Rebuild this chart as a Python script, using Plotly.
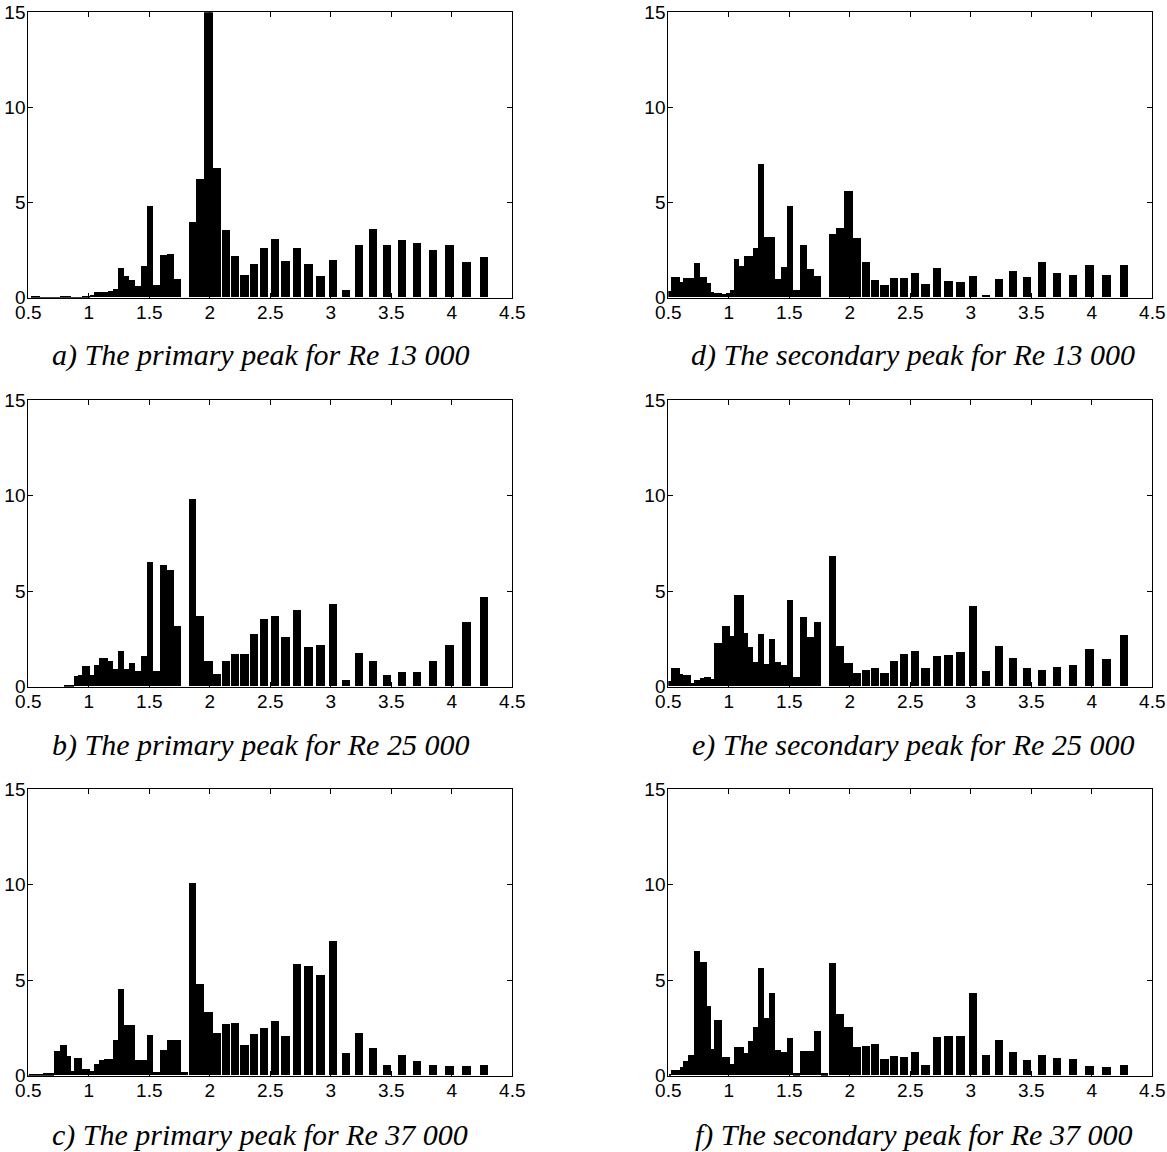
import numpy as np
import plotly.graph_objects as go

# Strouhal-number bin centres (1/20-octave bands), shared by all six histograms
st_bins = [0.498, 0.516, 0.534, 0.553, 0.572, 0.592, 0.613, 0.635, 0.657, 0.680,
           0.704, 0.729, 0.755, 0.781, 0.809, 0.838, 0.867, 0.898, 0.929, 0.962,
           0.996, 1.031, 1.068, 1.105, 1.144, 1.184, 1.226, 1.269, 1.314, 1.361,
           1.409, 1.458, 1.510, 1.563, 1.618, 1.675, 1.734, 1.795, 1.859, 1.924,
           1.992, 2.062, 2.135, 2.210, 2.288, 2.369, 2.452, 2.539, 2.628, 2.721,
           2.817, 2.917, 3.019, 3.126, 3.236, 3.350, 3.468, 3.591, 3.717, 3.848,
           3.984, 4.125, 4.270]

# occurrence (%) of the primary peak
primary_re13000 = [0, 0, 0.03, 0.05, 0.05, 0.04, 0.02, 0.02, 0.01, 0.01,
                   0.01, 0.01, 0.02, 0.03, 0.06, 0.06, 0.02, 0.01, 0.01, 0.03,
                   0.08, 0.12, 0.28, 0.28, 0.30, 0.32, 0.42, 1.52, 1.14, 0.89,
                   0.61, 1.63, 4.78, 0.67, 2.24, 2.28, 0.96, 0, 3.96, 6.24,
                   15.0, 6.80, 3.56, 2.20, 1.20, 1.75, 2.60, 3.07, 1.93, 2.58,
                   1.75, 1.10, 1.98, 0.40, 2.73, 3.59, 2.73, 3.03, 2.87, 2.47,
                   2.77, 1.87, 2.14]
primary_re25000 = [0, 0, 0, 0, 0, 0, 0, 0, 0, 0,
                   0, 0, 0, 0, 0.05, 0.07, 0.07, 0.56, 0.60, 1.05,
                   1.05, 0.60, 1.12, 1.48, 1.48, 1.31, 0.90, 1.88, 0.90, 1.20,
                   0.80, 1.58, 6.50, 0.80, 6.35, 6.10, 3.15, 0, 9.80, 3.70,
                   1.35, 0.65, 1.35, 1.70, 1.72, 2.75, 3.55, 3.68, 2.57, 3.98,
                   2.04, 2.17, 4.30, 0.35, 1.75, 1.31, 0.61, 0.75, 0.75, 1.31,
                   2.17, 3.35, 4.68]
primary_re37000 = [0.02, 0.03, 0.04, 0.04, 0.04, 0.04, 0.04, 0.10, 0.10, 0.10,
                   0.10, 1.26, 1.26, 1.59, 1.59, 1.00, 0.24, 0.93, 0.93, 0.35,
                   0.35, 0.24, 0.61, 0.79, 0.86, 0.86, 1.87, 4.52, 2.62, 2.62,
                   0.79, 0.79, 2.13, 0.17, 1.34, 1.87, 1.83, 0.16, 10.06, 4.80,
                   3.32, 2.22, 2.67, 2.72, 1.61, 2.18, 2.48, 2.85, 2.08, 5.85,
                   5.75, 5.26, 7.05, 1.17, 2.20, 1.43, 0.54, 1.05, 0.73, 0.52,
                   0.47, 0.47, 0.52]

# occurrence (%) of the secondary peak
secondary_re13000 = [0.32, 0.32, 1.05, 1.05, 1.05, 1.05, 0.80, 1.02, 1.02, 1.02,
                     1.02, 1.80, 1.80, 1.05, 1.05, 0.75, 0.30, 0.25, 0.25, 0.20,
                     0.25, 0.40, 2.00, 1.65, 2.15, 2.15, 2.60, 7.00, 3.20, 3.15,
                     0.96, 1.58, 4.82, 0.40, 2.77, 1.49, 1.10, 0, 3.35, 3.64,
                     5.60, 3.10, 1.87, 0.93, 0.67, 1.02, 1.02, 1.28, 0.72, 1.54,
                     0.88, 0.82, 1.14, 0.14, 0.96, 1.37, 1.09, 1.84, 1.28, 1.17,
                     1.72, 1.17, 1.72]
secondary_re25000 = [0.26, 0.26, 0.96, 0.96, 0.96, 0.96, 0.63, 0.61, 0.61, 0.61,
                     0.17, 0.35, 0.35, 0.44, 0.49, 0.49, 0.40, 2.27, 2.27, 3.18,
                     3.18, 2.62, 4.77, 4.77, 2.78, 2.04, 1.26, 2.76, 1.19, 2.46,
                     1.27, 1.13, 4.54, 0.49, 3.65, 2.57, 3.37, 0, 6.81, 2.10,
                     1.24, 0.72, 0.87, 0.96, 0.72, 1.31, 1.69, 1.88, 0.96, 1.61,
                     1.63, 1.78, 4.19, 0.82, 2.10, 1.48, 0.96, 0.87, 1.00, 1.14,
                     1.96, 1.46, 2.69]
secondary_re37000 = [0, 0.05, 0.30, 0.30, 0.30, 0.30, 0.45, 0.75, 0.75, 1.07,
                     1.07, 6.50, 6.50, 5.95, 5.95, 3.65, 1.40, 2.90, 2.90, 0.95,
                     0.95, 0.60, 1.50, 1.50, 1.15, 1.80, 2.55, 5.60, 3.00, 4.30,
                     1.35, 1.25, 1.95, 0.10, 1.30, 1.30, 2.35, 0.10, 5.90, 3.20,
                     2.55, 1.50, 1.55, 1.65, 0.85, 1.00, 0.95, 1.20, 0.52, 2.00,
                     2.04, 2.08, 4.31, 1.05, 1.83, 1.22, 0.80, 1.05, 0.89, 0.86,
                     0.51, 0.44, 0.52]

captions = ["a) The primary peak for Re 13 000",
            "d) The secondary peak for Re 13 000",
            "b) The primary peak for Re 25 000",
            "e) The secondary peak for Re 25 000",
            "c) The primary peak for Re 37 000",
            "f) The secondary peak for Re 37 000"]
panels = [primary_re13000, secondary_re13000,
          primary_re25000, secondary_re25000,
          primary_re37000, secondary_re37000]

x_ticks = [0.5, 1, 1.5, 2, 2.5, 3, 3.5, 4, 4.5]
x_tick_text = ["0.5", "1", "1.5", "2", "2.5", "3", "3.5", "4", "4.5"]
y_ticks = [0, 5, 10, 15]

# bar width: one band wide at low St, capped at a fixed width above St ~ 2
st = np.array(st_bins)
band = st * (2 ** (1 / 40) - 2 ** (-1 / 40))
bar_w = np.minimum(band, 0.069)

W, H = 1167, 1152
col_px = [(28.3, 512.3), (668.3, 1152.3)]
row_px = [(12.3, 297.7), (400.3, 686.7), (789.3, 1075.7)]
cap_y = [355, 745, 1135]
cap_x = [260, 913]

fig = go.Figure()
annotations = []
for i, vals in enumerate(panels):
    r, c = divmod(i, 2)
    n = "" if i == 0 else str(i + 1)
    fig.add_trace(go.Bar(
        x=st_bins, y=vals, width=bar_w,
        marker=dict(color="black", line=dict(width=0)),
        xaxis="x" + n, yaxis="y" + n, showlegend=False,
        hoverinfo="x+y",
    ))
    x0, x1 = col_px[c]
    y0, y1 = row_px[r]
    axis_common = dict(
        showline=True, linecolor="black", linewidth=1, mirror="ticks",
        ticks="inside", ticklen=5, tickwidth=1, tickcolor="black",
        showgrid=False, zeroline=False, automargin=False,
        tickfont=dict(family="Liberation Sans, Arial", size=19, color="black"),
    )
    fig.update_layout(**{
        "xaxis" + n: dict(axis_common, domain=[x0 / W, x1 / W], range=[0.5, 4.5],
                          tickmode="array", tickvals=x_ticks, ticktext=x_tick_text,
                          anchor="y" + n, ticklabelstandoff=-3),
        "yaxis" + n: dict(axis_common, domain=[1 - y1 / H, 1 - y0 / H], range=[0, 15],
                          tickmode="array", tickvals=y_ticks, anchor="x" + n,
                          ticklabelstandoff=-2),
    })
    annotations.append(dict(
        text=captions[i], xref="paper", yref="paper",
        x=cap_x[c] / W, y=1 - cap_y[r] / H, xanchor="center", yanchor="middle",
        showarrow=False,
        font=dict(family="Liberation Serif, Times New Roman", size=30,
                  color="black", style="italic"),
    ))

fig.update_layout(
    width=W, height=H, margin=dict(l=0, r=0, t=0, b=0),
    paper_bgcolor="white", plot_bgcolor="white",
    bargap=0, annotations=annotations,
)
fig.write_html("out.html")
